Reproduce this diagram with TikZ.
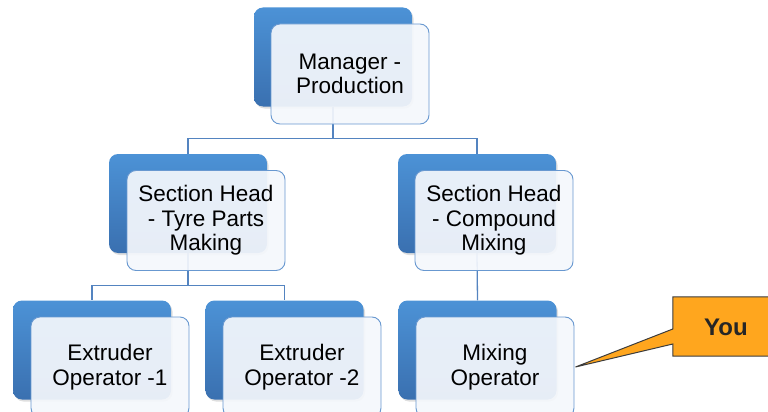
\documentclass[tikz,border=0pt]{standalone}
\usepackage{fontspec}
\setmainfont{Liberation Sans}
\usetikzlibrary{shadows,backgrounds}

\definecolor{backtop}{RGB}{76,146,214}
\definecolor{backbot}{RGB}{58,112,176}
\definecolor{frontfill}{RGB}{244,247,252}
\definecolor{frontline}{RGB}{104,152,208}
\definecolor{linkcol}{RGB}{84,132,192}
\definecolor{calloutfill}{RGB}{255,166,30}
\definecolor{calloutline}{RGB}{60,60,60}

\tikzset{
  backbox/.style={rectangle, rounded corners=9pt, minimum width=158pt, minimum height=99pt,
    top color=backtop, bottom color=backbot, draw=none,
    drop shadow={opacity=0.25, shadow xshift=1.5pt, shadow yshift=-2pt}},
  frontbox/.style={rectangle, rounded corners=9pt, minimum width=158pt, minimum height=100pt,
    draw=frontline, line width=0.9pt, fill=frontfill, fill opacity=0.93, text opacity=1,
    align=center, font=\fontsize{22.5}{24.5}\selectfont, text=black},
  link/.style={draw=linkcol, line width=1.3pt},
  youbox/.style={rectangle, minimum width=102pt, minimum height=59pt, inner sep=0pt},
  youlabel/.style={font=\fontsize{24}{26}\selectfont\bfseries, text=black!85},
}

\begin{document}
\begin{tikzpicture}[x=1pt, y=-1pt]
\useasboundingbox (0,0) rectangle (768,412);
\clip (0,0) rectangle (768,412);

% back (blue) panels
\node (mgrB)  [backbox] at (333,57)    {};
\node (secAB) [backbox] at (188,203.5) {};
\node (secBB) [backbox] at (477,203.5) {};
\node (ext1B) [backbox] at (92,350)    {};
\node (ext2B) [backbox] at (284.5,350) {};
\node (mixB)  [backbox] at (477.5,350) {};

% connectors
\begin{scope}[on background layer]
\draw[link] (mgrB.south) -- ++(0,32) -| (secAB.north);
\draw[link] (mgrB.south) -- ++(0,32) -| (secBB.north);
\draw[link] (secAB.south) -- ++(0,32) -| (ext1B.north);
\draw[link] (secAB.south) -- ++(0,32) -| (ext2B.north);
\draw[link] (secBB.south) -- (mixB.north);
\end{scope}

% front (text) panels
\node (mgr)  [frontbox] at (350,74)    {Manager -\\Production};
\node (secA) [frontbox] at (206,220.5) {Section Head\\- Tyre Parts\\Making};
\node (secB) [frontbox] at (494,220.5) {Section Head\\- Compound\\Mixing};
\node (ext1) [frontbox] at (110,367)   {Extruder\\Operator -1};
\node (ext2) [frontbox] at (302,367)   {Extruder\\Operator -2};
\node (mix)  [frontbox] at (495,367)   {Mixing\\Operator};

% callout
\node (you) [youbox] at (724,326.5) {};
\filldraw[fill=calloutfill, draw=calloutline, line width=1pt, line join=miter]
  (you.south west) -- ([yshift=-17.5pt]you.west) -- ([xshift=1pt]mix.east)
  -- ([yshift=-2.5pt]you.west) -- (you.north west) -- (you.north east)
  -- (you.south east) -- cycle;
\node[youlabel] at (726,327) {You};
\end{tikzpicture}
\end{document}
